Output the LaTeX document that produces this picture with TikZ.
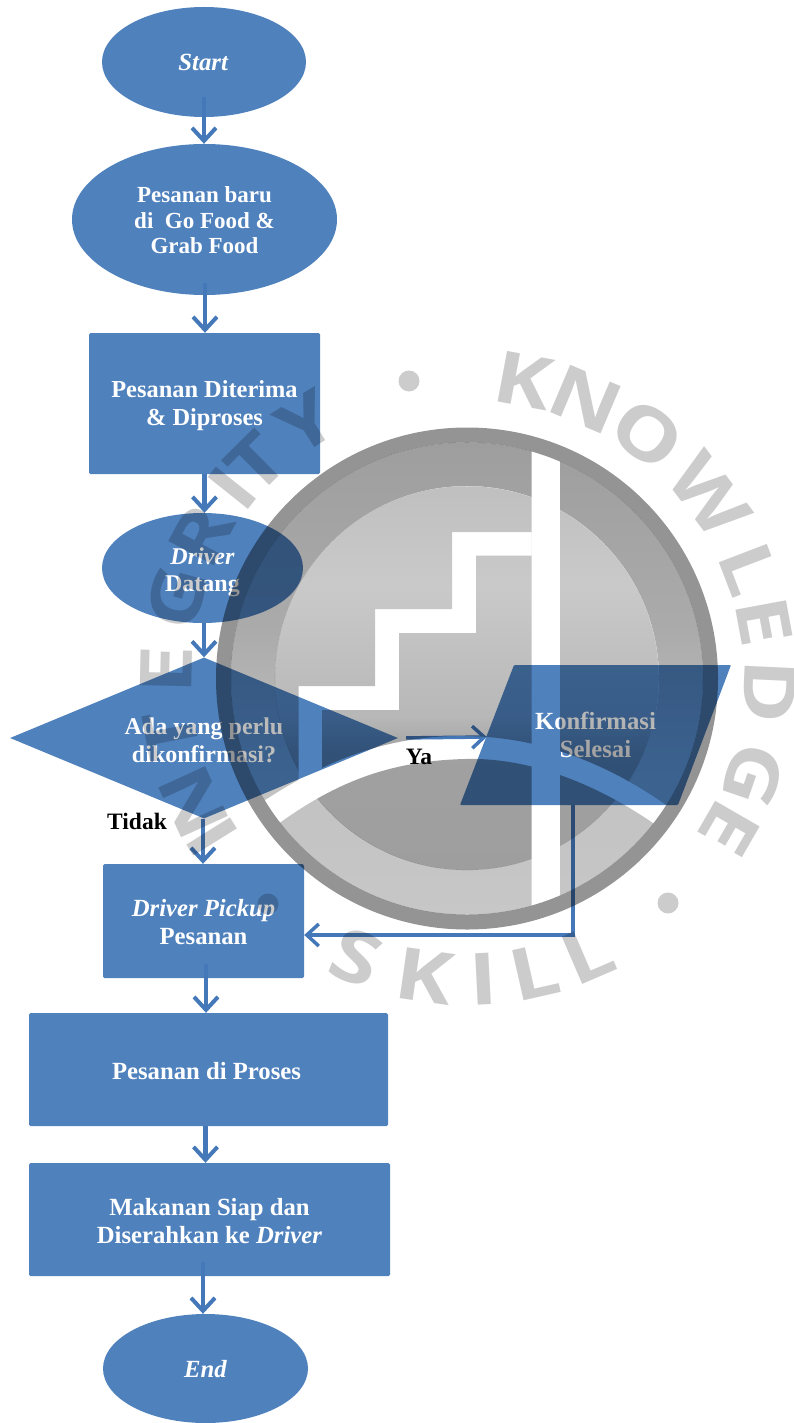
\documentclass[tikz,border=0pt]{standalone}
\usepackage{fontspec}
\setmainfont{Liberation Serif}
\newfontfamily\wmfont{Open Sans}
\usetikzlibrary{shapes.geometric,arrows.meta,calc,fadings}
\definecolor{fcblue}{HTML}{4F81BD}
\definecolor{lnblue}{HTML}{4478B9}
% luminance = opacity of the black overlay
\pgfdeclareverticalshading{ringshade}{100bp}{color(0bp)=(black!78);color(25bp)=(black!78);color(40bp)=(black!76);color(55bp)=(black!67);color(75bp)=(black!62);color(100bp)=(black!62)}
\pgfdeclareverticalshading{discshade}{100bp}{color(0bp)=(black!62);color(25bp)=(black!62);color(40bp)=(black!63);color(45bp)=(black!72);color(62bp)=(black!79);color(75bp)=(black!75);color(100bp)=(black!75)}
\pgfdeclarefading{ringfade}{\pgfuseshading{ringshade}}
\pgfdeclarefading{discfade}{\pgfuseshading{discshade}}
\tikzset{
  x=1pt,y=-1pt,
  fctext/.style={text=white,font=\fontsize{24.7}{28}\selectfont\bfseries,align=center,inner sep=0pt},
  fcell/.style={ellipse,fill=fcblue,fctext},
  fcrect/.style={rectangle,fill=fcblue,rounded corners=1.5pt,fctext},
  flow/.style={draw=lnblue,line width=4.5pt,-{Straight Barb[length=13pt,width=24pt,line width=4pt]}},
  thinflow/.style={draw=lnblue,line width=3.5pt,-{Straight Barb[length=12pt,width=22pt,line width=3.5pt]}},
  lab/.style={text=black,font=\fontsize{23.5}{27}\selectfont\bfseries,inner sep=0pt},
  wmletter/.style={text=black,text opacity=.2,font=\wmfont\fontsize{72}{72}\selectfont\bfseries,inner sep=0pt,text height=52pt,text depth=0pt,anchor=center},
  wmdot/.style={circle,fill=black,fill opacity=.2,minimum size=21pt,inner sep=0pt},
}
\begin{document}
\begin{tikzpicture}
\useasboundingbox (0,0) rectangle (794,1423);
% flowchart
\node[fcell,minimum width=204pt,minimum height=110pt] (start) at (204,62) {\textit{Start}\hspace{1pt}};
\node[fcell,minimum width=265pt,minimum height=151pt,font=\fontsize{23}{25.5}\selectfont\bfseries] (baru) at (204.5,219.5) {\rule{0pt}{18pt}Pesanan baru\\di\ \ Go Food \&\\Grab Food};
\node[fcrect,minimum width=231pt,minimum height=141pt,font=\fontsize{24.4}{28}\selectfont\bfseries] (terima) at (204.5,403.5) {\rule{0pt}{21pt}Pesanan Diterima\hspace{1pt}\\\& Diproses};
\node[fcell,minimum width=201pt,minimum height=110pt,font=\fontsize{24}{27.5}\selectfont\bfseries] (datang) at (202.5,568) {\rule{0pt}{25pt}\textit{Driver}\hspace{3pt}\\Datang\hspace{3pt}};
\node[diamond,aspect=2.4,fill=fcblue,fctext,minimum width=388pt,minimum height=161pt,font=\fontsize{24}{28}\selectfont\bfseries] (tanya) at (204,738) {\rule{0pt}{21pt}Ada yang perlu\hspace{4pt}\\dikonfirmasi?\hspace{4pt}};
\fill[fcblue,rounded corners=1pt] (514,665) -- (731,665) -- (678,805) -- (460,805) -- cycle;
\node[rectangle,fctext,minimum width=217pt,minimum height=140pt] (konf) at (595.5,735) {Konfirmasi\\Selesai};
\node[fcrect,minimum width=201pt,minimum height=114pt] (pick) at (203.5,921) {\rule{0pt}{19pt}\textit{Driver Pickup}\\Pesanan};
\node[fcrect,minimum width=359pt,minimum height=113pt] (proses) at (208.5,1069.5) {\rule{0pt}{21pt}Pesanan di Proses\hspace{4pt}};
\node[fcrect,minimum width=361pt,minimum height=113pt] (siap) at (209.5,1219.5) {\rule{0pt}{21pt}Makanan Siap dan\\Diserahkan ke \textit{Driver}};
\node[fcell,minimum width=205pt,minimum height=109pt] (end) at (205.5,1368.5) {\rule{0pt}{19pt}\textit{End}};
\node[lab] (tidak) at (137,821) {Tidak};
\node[lab] (ya) at (419,757) {Ya};
% connectors
\draw[flow,shorten <=-20pt] (start.south) -- ([xshift=-.5pt]baru.north);
\draw[flow,shorten <=-12pt] ([xshift=.5pt]baru.south) -- ([xshift=.5pt]terima.north);
\draw[flow] (terima.south) -- ([xshift=2pt]datang.north);
\draw[flow] ([xshift=1.5pt]datang.south) -- (tanya.north);
\draw[flow] ([xshift=-1pt]tanya.south) -- ([xshift=-.5pt]pick.north);
\draw[flow,shorten <=-14pt] ([xshift=2.5pt]pick.south) -- ([xshift=-2.5pt]proses.north);
\draw[flow] ([xshift=-3pt]proses.south) -- ([xshift=-4pt]siap.north);
\draw[flow,shorten <=-14pt] ([xshift=-6.5pt]siap.south) -- ([xshift=-2.5pt]end.north);
\draw[thinflow,shorten <=8pt] (tanya.east) -- ([yshift=-2pt]konf.west);
\draw[thinflow] ([xshift=-22.5pt]konf.south) |- ([yshift=-14pt]pick.east);
% watermark: black overlays with opacity act as a grey multiply
\fill[black,fill opacity=.42,even odd rule] (467,678.5) circle[radius=251] (467,678.5) circle[radius=236];
\begin{scope}
  % holes: outer rectangle clockwise on screen, each hole anticlockwise
  \clip (0,0) -- (794,0) -- (794,1423) -- (0,1423) -- cycle
        (531.5,430) -- (531.5,930) -- (560,930) -- (560,430) -- cycle;
  \clip (0,0) -- (794,0) -- (794,1423) -- (0,1423) -- cycle
        (531.5,532) -- (452,532) -- (452,609) -- (375,609) -- (375,686) -- (298.5,686) -- (298.5,785) -- (322,785) -- (322,710) -- (399,710) -- (399,633) -- (476,633) -- (476,555.5) -- (531.5,555.5) -- cycle;
  \clip (0,0) -- (794,0) -- (794,1423) -- (0,1423) -- cycle
        (250,810) -- (270,830) .. controls (330,785) and (385,761) .. (465,759) .. controls (530,757) and (600,785) .. (660,828)
        -- (680,815) .. controls (620,770) and (550,737) .. (465,736) .. controls (385,735) and (320,762) .. (250,810) -- cycle;
  \fill[black,even odd rule,path fading=ringfade] (467,678.5) circle[radius=236] (467,678) circle[radius=192];
  \fill[black,path fading=discfade] (467,678) circle[radius=192];
\end{scope}
\foreach \ch/\ang [count=\i] in {K/10.6,N/23,O/36.5,W/53,L/69,E/79.5,D/92.7,G/109,E/120,I/-122,N/-114.5,T/-101,E/-88.7,G/-74.8,R/-62,I/-51.4,T/-44.7,Y/-32.4}{
  \node[wmletter,rotate=-\ang] (wm\i) at ({468+302*sin(\ang)},{677-302*cos(\ang)}) {\scalebox{1.2}[1]{\ch}};
}
\foreach \ch/\ang [count=\i] in {S/-21.7,K/-8.2,I/2.9,L/12.8,L/23.3}{
  \node[wmletter,rotate=\ang] (wb\i) at ({468+302*sin(\ang)},{677+302*cos(\ang)}) {\scalebox{1.2}[1]{\ch}};
}
\node[wmdot] (d1) at (409,381) {};
\node[wmdot] (d2) at (668,903) {};
\node[wmdot] (d3) at (268,904) {};
\end{tikzpicture}
\end{document}
